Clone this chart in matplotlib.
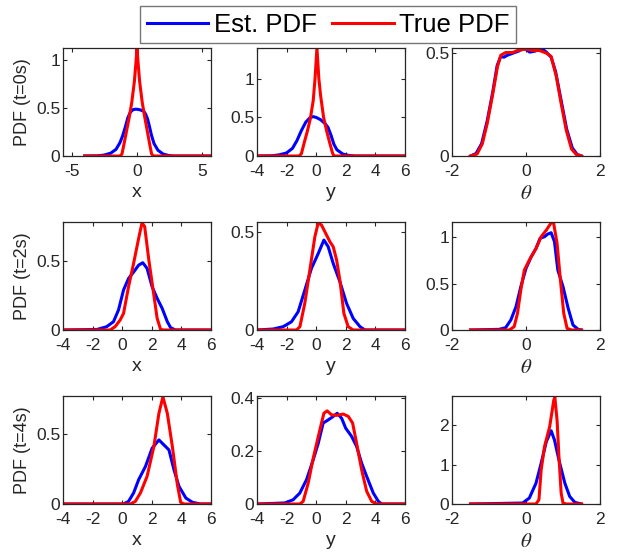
import matplotlib
matplotlib.use('Agg')
import matplotlib.pyplot as plt
from matplotlib.lines import Line2D

plt.rcParams['font.family'] = ['Liberation Sans', 'DejaVu Sans']
plt.rcParams['mathtext.fontset'] = 'stix'
plt.rcParams['axes.unicode_minus'] = False

# ---- t = 0s ----
x00_est = [-4, -3, -2.5, -2, -1.6, -1.3, -1.1, -0.9, -0.7, -0.5, -0.3, -0.1, 0.1, 0.3, 0.5, 0.65, 0.8, 0.95, 1.1, 1.3, 1.6, 2.0, 2.4, 2.8, 5.65]
y00_est = [0, 0.002, 0.01, 0.03, 0.07, 0.14, 0.21, 0.30, 0.40, 0.46, 0.485, 0.49, 0.487, 0.48, 0.47, 0.44, 0.39, 0.31, 0.22, 0.13, 0.06, 0.02, 0.006, 0, 0]
x00_true = [-4, -1.3, -1.15, -1.0, -0.8, -0.6, -0.4, -0.2, -0.08, 0.0, 0.08, 0.2, 0.4, 0.6, 0.8, 1.0, 1.12, 1.25, 5.65]
y00_true = [0, 0, 0.02, 0.12, 0.26, 0.40, 0.56, 0.78, 0.98, 1.13, 0.98, 0.78, 0.56, 0.40, 0.25, 0.10, 0.02, 0, 0]

x01_est = [-4, -3, -2.5, -2, -1.6, -1.3, -1.0, -0.7, -0.4, -0.2, 0, 0.3, 0.6, 0.8, 1.0, 1.2, 1.4, 1.8, 2.2, 2.6, 6]
y01_est = [0, 0.003, 0.015, 0.04, 0.10, 0.20, 0.33, 0.44, 0.50, 0.51, 0.50, 0.47, 0.42, 0.37, 0.27, 0.15, 0.08, 0.025, 0.008, 0, 0]
x01_true = [-4, -1.15, -1.0, -0.8, -0.6, -0.4, -0.2, -0.08, 0.05, 0.18, 0.3, 0.5, 0.7, 0.9, 1.1, 1.2, 6]
y01_true = [0, 0, 0.03, 0.18, 0.32, 0.48, 0.72, 1.0, 1.4, 1.0, 0.78, 0.50, 0.33, 0.18, 0.04, 0, 0]

x02_est = [-1.5, -1.35, -1.2, -1.05, -0.9, -0.78, -0.68, -0.6, -0.5, -0.35, -0.2, -0.05, 0.1, 0.25, 0.4, 0.55, 0.68, 0.8, 0.95, 1.1, 1.25, 1.38, 1.5]
y02_est = [0, 0.012, 0.06, 0.17, 0.31, 0.44, 0.485, 0.48, 0.49, 0.50, 0.51, 0.525, 0.505, 0.51, 0.525, 0.505, 0.48, 0.41, 0.27, 0.13, 0.04, 0.008, 0]
x02_true = [-1.5, -1.32, -1.18, -1.05, -0.91, -0.77, -0.68, -0.55, -0.36, -0.23, 0, 0.18, 0.36, 0.55, 0.68, 0.82, 0.95, 1.09, 1.23, 1.36, 1.5]
y02_true = [0, 0.01, 0.06, 0.157, 0.29, 0.435, 0.49, 0.503, 0.503, 0.513, 0.52, 0.513, 0.513, 0.50, 0.484, 0.386, 0.255, 0.124, 0.034, 0.007, 0]

# ---- t = 2s ----
x10_est = [-4, -1.7, -1.05, -0.59, -0.25, 0.09, 0.43, 0.77, 1.11, 1.39, 1.68, 2.02, 2.36, 2.7, 3.05, 3.27, 3.6, 6]
y10_est = [0, 0.004, 0.024, 0.06, 0.145, 0.29, 0.374, 0.42, 0.47, 0.488, 0.447, 0.314, 0.23, 0.157, 0.06, 0.017, 0, 0]
x10_true = [-4, -0.82, -0.48, -0.14, 0.09, 0.43, 0.77, 1.11, 1.34, 1.52, 1.8, 2.09, 2.36, 2.59, 2.8, 6]
y10_true = [0, 0, 0.024, 0.072, 0.12, 0.314, 0.483, 0.664, 0.778, 0.749, 0.507, 0.29, 0.085, 0.005, 0, 0]

x11_est = [-4, -2.91, -2.23, -1.67, -1.22, -0.77, -0.32, 0.14, 0.52, 0.81, 1.15, 1.6, 2.05, 2.5, 2.96, 3.3, 6]
y11_est = [0, 0.005, 0.017, 0.042, 0.093, 0.203, 0.314, 0.39, 0.458, 0.424, 0.339, 0.246, 0.136, 0.059, 0.017, 0, 0]
x11_true = [-4, -1.33, -1.1, -0.77, -0.43, -0.09, 0.14, 0.36, 0.59, 0.93, 1.15, 1.38, 1.6, 1.87, 2.16, 2.5, 6]
y11_true = [0, 0, 0.017, 0.136, 0.305, 0.475, 0.547, 0.534, 0.50, 0.449, 0.424, 0.356, 0.254, 0.085, 0.017, 0, 0]

x12_est = [-1.5, -0.73, -0.55, -0.41, -0.27, -0.14, 0, 0.14, 0.27, 0.38, 0.5, 0.59, 0.68, 0.77, 0.86, 1.0, 1.14, 1.27, 1.41, 1.5]
y12_est = [0, 0.007, 0.025, 0.108, 0.252, 0.468, 0.665, 0.79, 0.88, 0.99, 1.007, 1.036, 1.05, 0.953, 0.647, 0.468, 0.234, 0.054, 0.007, 0]
x12_true = [-1.5, -0.45, -0.32, -0.23, -0.14, -0.045, 0.09, 0.27, 0.41, 0.55, 0.68, 0.745, 0.84, 0.93, 1.02, 1.11, 1.23, 1.5]
y12_true = [0, 0, 0.036, 0.18, 0.432, 0.647, 0.755, 0.88, 1.007, 1.079, 1.158, 1.158, 0.935, 0.54, 0.18, 0.018, 0, 0]

# ---- t = 4s ----
x20_est = [-4, 0.09, 0.43, 0.77, 1.11, 1.57, 2.02, 2.48, 2.82, 3.16, 3.5, 3.84, 4.3, 4.75, 5.3, 6]
y20_est = [0, 0, 0.019, 0.079, 0.174, 0.269, 0.40, 0.46, 0.424, 0.388, 0.245, 0.126, 0.043, 0.012, 0, 0]
x20_true = [-4, 0.55, 0.89, 1.23, 1.68, 2.14, 2.48, 2.75, 3.05, 3.39, 3.73, 3.95, 4.18, 6]
y20_true = [0, 0, 0.019, 0.079, 0.198, 0.412, 0.65, 0.769, 0.65, 0.412, 0.138, 0.012, 0, 0]

x21_est = [-4, -2.12, -1.56, -1.11, -0.65, -0.2, 0.14, 0.47, 0.81, 1.15, 1.42, 1.72, 1.99, 2.39, 2.73, 3.07, 3.41, 3.86, 4.2, 4.42, 6]
y21_est = [0, 0.004, 0.016, 0.041, 0.092, 0.167, 0.229, 0.305, 0.317, 0.33, 0.342, 0.323, 0.286, 0.255, 0.217, 0.154, 0.104, 0.041, 0.01, 0, 0]
x21_true = [-4, -1.11, -0.88, -0.54, -0.2, 0.25, 0.52, 0.74, 1.04, 1.38, 1.83, 2.17, 2.46, 2.73, 3.07, 3.41, 3.75, 4.09, 6]
y21_true = [0, 0, 0.01, 0.079, 0.173, 0.28, 0.342, 0.351, 0.336, 0.334, 0.339, 0.33, 0.305, 0.229, 0.129, 0.048, 0.01, 0, 0]

x22_est = [-1.5, -0.09, 0.09, 0.27, 0.41, 0.55, 0.68, 0.77, 0.89, 1.05, 1.18, 1.32, 1.5]
y22_est = [0, 0.025, 0.152, 0.53, 1.04, 1.59, 1.865, 1.63, 1.12, 0.53, 0.194, 0.042, 0]
x22_true = [-1.5, 0.27, 0.35, 0.41, 0.5, 0.64, 0.75, 0.78, 0.84, 0.89, 0.95, 1.0, 1.09, 1.5]
y22_true = [0, 0, 0.11, 0.87, 1.46, 1.97, 2.64, 2.72, 2.13, 1.21, 0.28, 0.025, 0, 0]

est_x = [[x00_est, x01_est, x02_est], [x10_est, x11_est, x12_est], [x20_est, x21_est, x22_est]]
est_y = [[y00_est, y01_est, y02_est], [y10_est, y11_est, y12_est], [y20_est, y21_est, y22_est]]
true_x = [[x00_true, x01_true, x02_true], [x10_true, x11_true, x12_true], [x20_true, x21_true, x22_true]]
true_y = [[y00_true, y01_true, y02_true], [y10_true, y11_true, y12_true], [y20_true, y21_true, y22_true]]

row_labels = ['PDF (t=0s)', 'PDF (t=2s)', 'PDF (t=4s)']
col_labels = ['x', 'y', r'$\theta$']
xlims = [[(-5.65, 5.65), (-4, 6), (-2, 2)],
         [(-4, 6), (-4, 6), (-2, 2)],
         [(-4, 6), (-4, 6), (-2, 2)]]
xticks = [[[-5, 0, 5], [-4, -2, 0, 2, 4, 6], [-2, 0, 2]],
          [[-4, -2, 0, 2, 4, 6], [-4, -2, 0, 2, 4, 6], [-2, 0, 2]],
          [[-4, -2, 0, 2, 4, 6], [-4, -2, 0, 2, 4, 6], [-2, 0, 2]]]
ytops = [[1.13, 1.4, 0.525], [0.783, 0.55, 1.166], [0.775, 0.407, 2.75]]
yticks = [[[0, 0.5, 1], [0, 0.5, 1], [0, 0.5]],
          [[0, 0.5], [0, 0.5], [0, 0.5, 1]],
          [[0, 0.5], [0, 0.2, 0.4], [0, 1, 2]]]

BLUE = '#0000ff'
RED = '#ff0000'
DARK = '#262626'

fig = plt.figure(figsize=(6.19, 5.55), dpi=100)
lefts = [63, 257, 452]
tops = [48, 222, 396]
W, H = 148, 108

for r in range(3):
    for c in range(3):
        ax = fig.add_axes([lefts[c] / 619, 1 - (tops[r] + H) / 555, W / 619, H / 555])
        ax.plot(est_x[r][c], est_y[r][c], color=BLUE, lw=2.2)
        ax.plot(true_x[r][c], true_y[r][c], color=RED, lw=2.2)
        ax.set_xlim(*xlims[r][c])
        ax.set_ylim(0, ytops[r][c])
        ax.set_xticks(xticks[r][c])
        ax.set_yticks(yticks[r][c])
        ax.set_xticklabels(['%g' % v for v in xticks[r][c]])
        ax.set_yticklabels(['%g' % v for v in yticks[r][c]])
        ax.tick_params(direction='in', top=True, right=True, length=3, width=0.8,
                       labelsize=12.5, colors=DARK)
        ax.tick_params(axis='y', pad=2)
        ax.tick_params(axis='x', pad=6)
        for s in ax.spines.values():
            s.set_color(DARK)
            s.set_linewidth(0.9)
        if c == 2:
            ax.set_xlabel(col_labels[c], fontsize=15, color=DARK)
        else:
            ax.set_xlabel(col_labels[c], fontsize=14, color=DARK)
        ax.xaxis.set_label_coords(0.5, -0.26)
        if c == 0:
            ax.set_ylabel(row_labels[r], fontsize=13, color=DARK)
            ax.yaxis.set_label_coords(-0.215, 0.5)

handles = [Line2D([], [], color=BLUE, lw=2.2), Line2D([], [], color=RED, lw=2.2)]
leg = fig.legend(handles, ['Est. PDF', 'True PDF'], loc='center', ncol=2,
                 bbox_to_anchor=(328 / 619, 1 - 24.5 / 555), fontsize=18.5,
                 frameon=True, fancybox=False, edgecolor='#777777', framealpha=1,
                 handlelength=2.4, handletextpad=0.2, columnspacing=0.6,
                 borderpad=0.25, borderaxespad=0)
leg.get_frame().set_linewidth(1.0)

fig.savefig('out.png', dpi=100)
